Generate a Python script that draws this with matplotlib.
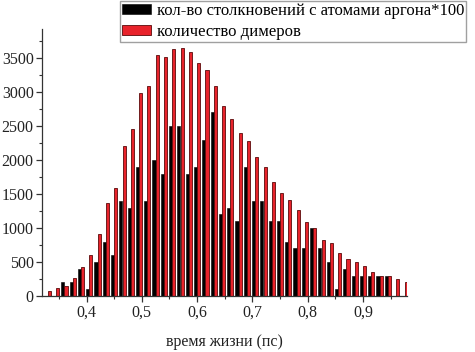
import matplotlib
matplotlib.use("Agg")
import matplotlib.pyplot as plt
import numpy as np
from matplotlib.ticker import MultipleLocator

# bin centres (ps)
bins = [round(0.33 + 0.015 * k, 3) for k in range(44)]

collisions = [0, 0, 200, 200, 400, 100, 500, 800, 600, 1400,
              1300, 1900, 1400, 2000, 1800, 2500, 2500, 1800, 1900, 2300,
              2700, 1200, 1300, 1100, 1900, 1400, 1400, 1100, 1100, 800,
              700, 700, 1000, 700, 500, 100, 400, 300, 300, 300,
              300, 300, 0, 0]

dimers = [80, 120, 150, 270, 420, 610, 910, 1370, 1590, 2200,
          2460, 2990, 3090, 3550, 3510, 3630, 3640, 3580, 3420, 3320,
          3090, 2800, 2600, 2390, 2280, 2040, 1890, 1680, 1520, 1410,
          1260, 1090, 1000, 820, 780, 630, 540, 500, 440, 360,
          300, 300, 245, 205]

xticks = [0.4, 0.5, 0.6, 0.7, 0.8, 0.9]
xticklabels = ["0,4", "0,5", "0,6", "0,7", "0,8", "0,9"]
yticks = [0, 500, 1000, 1500, 2000, 2500, 3000, 3500]

label_black = "кол-во столкновений с атомами аргона*100"
label_red = "количество димеров"
xlabel = "время жизни (пс)"

plt.rcParams['font.family'] = ['Liberation Serif', 'DejaVu Serif']

W, H = 475, 352
fig = plt.figure(figsize=(W / 100, H / 100), dpi=100)
ax = fig.add_axes([42 / W, 1 - 296 / H, (407 - 42) / W, (296 - 29) / H])

x = np.array(bins)
bw = 0.0056
ax.bar(x - 0.0029, collisions, width=bw, color="black", edgecolor="black",
       linewidth=0.4, label=label_black)
ax.bar(x + 0.0029, dimers, width=bw, color="#e8232b", edgecolor="#5a0a0a",
       linewidth=0.6, label=label_red)

ax.set_xlim(0.3195, 0.9796)
ax.set_ylim(0, 3925)
ax.set_xticks(xticks)
ax.set_xticklabels(xticklabels)
ax.set_yticks(yticks)
ax.xaxis.set_minor_locator(MultipleLocator(0.05))
ax.yaxis.set_minor_locator(MultipleLocator(250))

for s in ["top", "right"]:
    ax.spines[s].set_visible(False)
for s in ["left", "bottom"]:
    ax.spines[s].set_color("#333333")
    ax.spines[s].set_linewidth(0.9)

ax.tick_params(axis="both", which="major", direction="out", length=4,
               width=0.9, labelsize=11.5, colors="#333333", labelcolor="#222222", pad=2)
ax.tick_params(axis="both", which="minor", direction="out", length=2.5, width=0.8,
               colors="#333333")
ax.set_xlabel(xlabel, fontsize=11.5, color="#222222", labelpad=10)

leg = fig.legend(loc="upper left", bbox_to_anchor=(120 / W, 1 - 1 / H),
                 borderaxespad=0, fancybox=False, frameon=True, fontsize=12,
                 handlelength=1.75, handleheight=0.6, labelspacing=0.3,
                 borderpad=0.11, handletextpad=0.35)
leg.get_frame().set_edgecolor("#888888")
leg.get_frame().set_linewidth(1.0)

fig.savefig("out.png", dpi=100)
